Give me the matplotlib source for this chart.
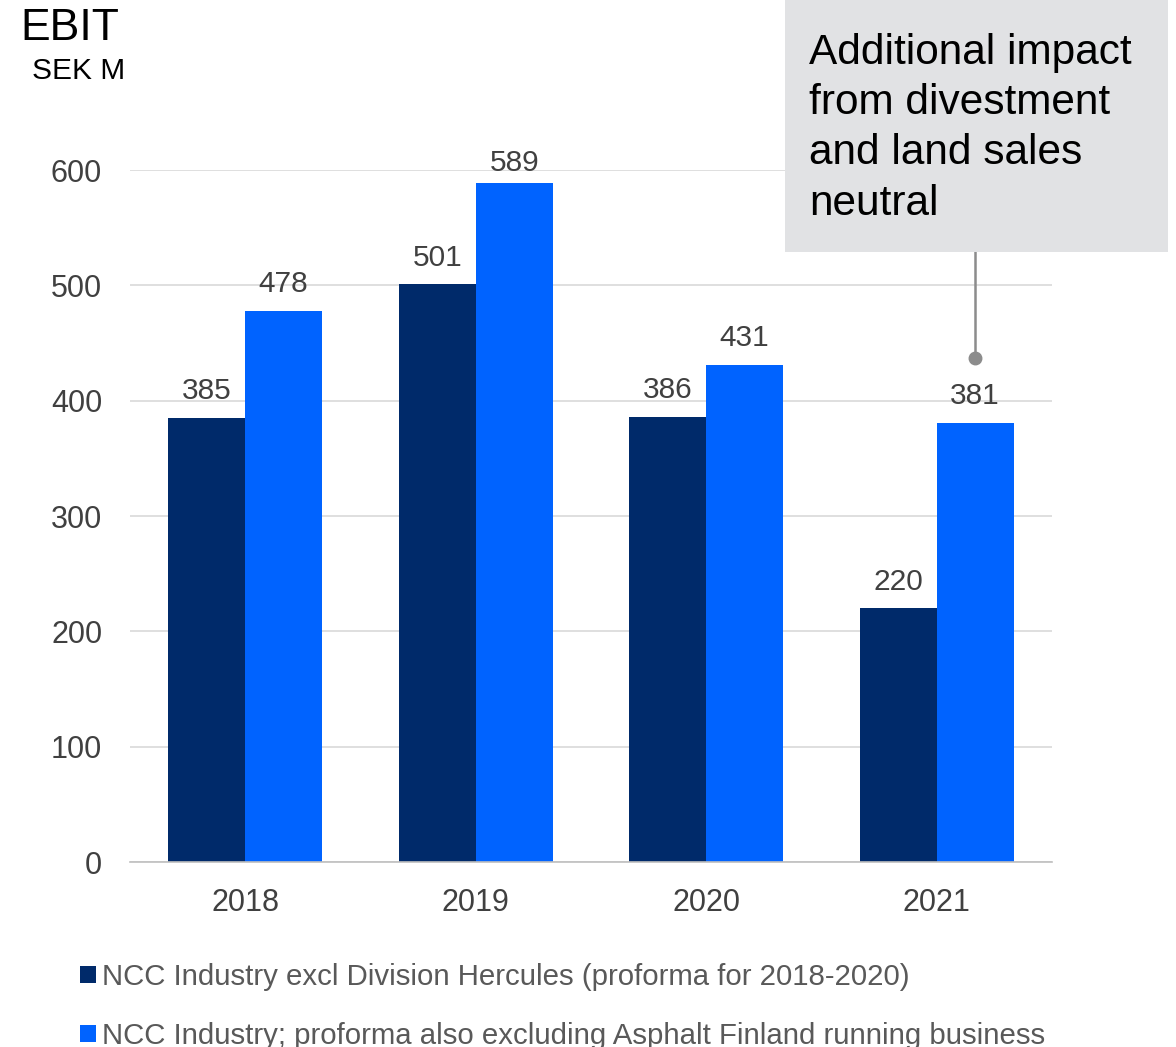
import matplotlib
matplotlib.use("Agg")
import matplotlib.pyplot as plt
from matplotlib.patches import Rectangle, Patch
import numpy as np

plt.rcParams['font.family'] = ['Liberation Sans', 'DejaVu Sans']

years = ["2018", "2019", "2020", "2021"]
excl_hercules = [385, 501, 386, 220]
excl_asphalt_finland = [478, 589, 431, 381]
series_labels = [
    "NCC Industry excl Division Hercules (proforma for 2018-2020)",
    "NCC Industry; proforma also excluding Asphalt Finland running business",
]
yticks = [0, 100, 200, 300, 400, 500, 600]
title = "EBIT"
unit = "SEK M"
note = "Additional impact\nfrom divestment\nand land sales\nneutral"

DARK = "#002A6A"
LIGHT = "#0063FF"
TXT = "#404040"
GRID = "#D9D9D9"

W, H = 1176, 1047
fig = plt.figure(figsize=(W / 100, H / 100), dpi=100)
ax = fig.add_axes([130 / W, 1 - 862 / H, (1052 - 130) / W, (862 - 170) / H])

x = np.arange(len(years))
bw = 1 / 3
b1 = ax.bar(x - bw / 2, excl_hercules, bw, color=DARK, zorder=2)
b2 = ax.bar(x + bw / 2, excl_asphalt_finland, bw, color=LIGHT, zorder=2)

ymax = yticks[-1]
for bars, vals in ((b1, excl_hercules), (b2, excl_asphalt_finland)):
    for rect, v in zip(bars, vals):
        off = 9 if v < ymax - 30 else 4
        ax.annotate(str(v), (rect.get_x() + rect.get_width() / 2, v),
                    xytext=(0, off), textcoords="offset points",
                    ha="center", va="bottom", fontsize=21.5, color=TXT,
                    annotation_clip=False)

ax.set_xlim(-0.5, len(years) - 0.5)
ax.set_ylim(0, ymax)
ax.set_yticks(yticks)
ax.set_yticklabels([str(t) for t in yticks])
ax.set_xticks(x)
ax.set_xticklabels(years)
ax.tick_params(axis="y", length=0, pad=20, labelsize=22, labelcolor=TXT)
ax.tick_params(axis="x", length=0, pad=19, labelsize=22, labelcolor=TXT)
ax.grid(axis="y", color=GRID, linewidth=1.2, zorder=0)
ax.set_axisbelow(True)
for s in ("left", "right", "top"):
    ax.spines[s].set_visible(False)
ax.spines["bottom"].set_color("#BFBFBF")
ax.spines["bottom"].set_linewidth(1.2)

# callout connector
cx = x[-1] + bw / 2
ax.plot([cx, cx], [437, 620], color="#8C8C8C", linewidth=1.8, clip_on=False, zorder=3)
ax.plot([cx], [437], marker="o", markersize=9, color="#8C8C8C", clip_on=False, zorder=3)

# callout box
box = Rectangle((785 / W, 1 - 252 / H), (1168 - 785) / W, 252 / H,
                transform=fig.transFigure, facecolor="#E1E2E4", edgecolor="none", zorder=5)
fig.patches.append(box)
fig.text(809 / W, 1 - 33 / H, note, fontsize=30.5, color="black", va="top", ha="left",
         linespacing=1.33, zorder=6)

fig.text(20 / W, 1 - 29 / H, title, fontsize=32, color="black", va="center", ha="left")
fig.text(32 / W, 1 - 71 / H, unit, fontsize=21.5, color="black", va="center", ha="left")

handles = [Patch(facecolor=DARK), Patch(facecolor=LIGHT)]
fig.legend(handles, series_labels, loc="upper left", bbox_to_anchor=(80 / W, 1 - 963 / H),
           frameon=False, fontsize=21.2, handlelength=0.55, handleheight=0.55,
           handletextpad=0.2, labelspacing=1.05, borderpad=0, borderaxespad=0,
           labelcolor="#595959")

fig.savefig("out.png", dpi=100)
